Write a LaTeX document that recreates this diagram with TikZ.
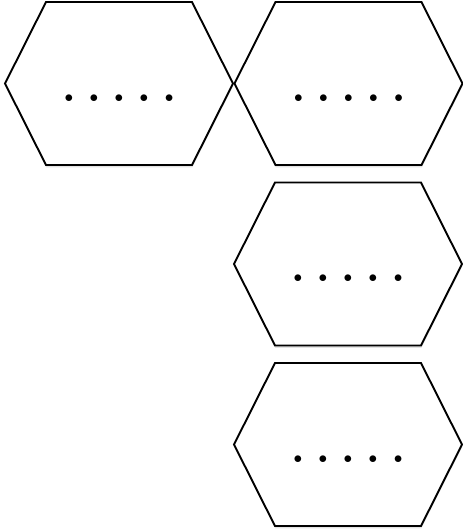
\documentclass[tikz,border=0pt]{standalone}
\usepackage{tikz}
\usetikzlibrary{shapes.symbols,shadows}

\tikzset{
  hexbox/.style={signal,signal to=east and west,signal pointer angle=126.6,
        draw=black,line width=1.9pt,fill=white,inner sep=0pt,outer sep=0pt,
        minimum width=228pt,minimum height=163pt,
        drop shadow={shadow xshift=0.3pt,shadow yshift=-2.4pt,opacity=0.22}},
  dotrow/.style={font=\LARGE,inner sep=0pt}
}
\newcommand{\fivedots}{$\bullet$\hspace{16.4pt}$\bullet$\hspace{16.4pt}$\bullet$\hspace{16.4pt}$\bullet$\hspace{16.4pt}$\bullet$}

\begin{document}
\begin{tikzpicture}[x=1pt,y=-1pt]
  \useasboundingbox[fill=white] (0,0) rectangle (463,531);
  \node[hexbox] (h1) at (119,83.5) {};
  \node[hexbox] (h2) at (348.5,83.5) {};
  \node[hexbox] (h3) at (348,264) {};
  \node[hexbox] (h4) at (348,444.5) {};
  % the five dots sit a bit below the middle
  \node[dotrow] (d1) at ([yshift=-15pt]h1.center) {\fivedots};
  \node[dotrow] (d2) at ([yshift=-15pt]h2.center) {\fivedots};
  \node[dotrow] (d3) at ([yshift=-15pt]h3.center) {\fivedots};
  \node[dotrow] (d4) at ([yshift=-15pt]h4.center) {\fivedots};
\end{tikzpicture}
\end{document}
